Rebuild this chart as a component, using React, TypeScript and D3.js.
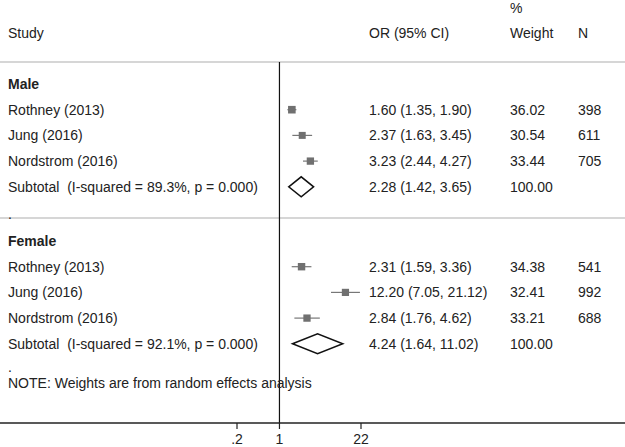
import { scaleLog, scaleSqrt } from "d3"
import { useEffect, useRef } from "react"
import { select } from "d3"

// study rows
const studies = ["Rothney (2013)", "Jung (2016)", "Nordstrom (2016)"]

const maleOR = [1.60, 2.37, 3.23]
const maleLo = [1.35, 1.63, 2.44]
const maleHi = [1.90, 3.45, 4.27]
const maleWeight = ["36.02", "30.54", "33.44"]
const maleN = [398, 611, 705]
const maleSub = { or: 2.28, lo: 1.42, hi: 3.65, label: "Subtotal  (I-squared = 89.3%, p = 0.000)" }

const femaleOR = [2.31, 12.20, 2.84]
const femaleLo = [1.59, 7.05, 1.76]
const femaleHi = [3.36, 21.12, 4.62]
const femaleWeight = ["34.38", "32.41", "33.21"]
const femaleN = [541, 992, 688]
const femaleSub = { or: 4.24, lo: 1.64, hi: 11.02, label: "Subtotal  (I-squared = 92.1%, p = 0.000)" }

const tickValues = [0.2, 1, 22]
const tickLabels = [".2", "1", "22"]

const W = 625
const H = 447
const FONT = "'Liberation Sans', Arial, sans-serif"

const fmt = (v) => v.toFixed(2)

const App = () => {
    const ref = useRef()

    useEffect(() => {
        document.body.style.margin = "0"
        const svg = select(ref.current)
        svg.selectAll("*").remove()

        const x = scaleLog().domain([0.2, 22]).range([237, 361])
        const boxSize = scaleSqrt().domain([0, 40]).range([0, 8])
        const step = 25.7
        const axisY = 423
        const colStudy = 8
        const colOR = 369
        const colW = 510
        const colN = 578

        const text = (str, tx, ty, opts = {}) => svg.append("text")
            .attr("x", tx)
            .attr("y", ty + 5)
            .attr("font-family", FONT)
            .attr("font-size", 14)
            .attr("font-weight", opts.bold ? "bold" : "normal")
            .attr("text-anchor", opts.anchor || "start")
            .attr("fill", "#222")
            .style("white-space", "pre")
            .text(str)

        // header
        text("%", colW, 8)
        text("Study", colStudy, 33)
        text("OR (95% CI)", colOR, 33)
        text("Weight", colW, 33)
        text("N", colN, 33)

        svg.append("line").attr("x1", 0).attr("x2", W).attr("y1", 62).attr("y2", 62)
            .attr("stroke", "#c8c8c8").attr("stroke-width", 1.5)
        svg.append("line").attr("x1", 0).attr("x2", W).attr("y1", 218).attr("y2", 218)
            .attr("stroke", "#c8c8c8").attr("stroke-width", 1.5)

        // null line
        svg.append("line").attr("x1", x(1)).attr("x2", x(1)).attr("y1", 62).attr("y2", axisY)
            .attr("stroke", "#111").attr("stroke-width", 1.2)

        const drawGroup = (title, top, ors, los, his, weights, ns, sub) => {
            text(title, colStudy, top, { bold: true })
            studies.forEach((s, i) => {
                const cy = top + step * (i + 1)
                text(s, colStudy, cy)
                svg.append("line")
                    .attr("x1", x(los[i])).attr("x2", x(his[i]))
                    .attr("y1", cy).attr("y2", cy)
                    .attr("stroke", "#777").attr("stroke-width", 1.2)
                const b = boxSize(+weights[i])
                svg.append("rect")
                    .attr("x", x(ors[i]) - b / 2).attr("y", cy - b / 2)
                    .attr("width", b).attr("height", b)
                    .attr("fill", "#707070")
                text(`${fmt(ors[i])} (${fmt(los[i])}, ${fmt(his[i])})`, colOR, cy)
                text(weights[i], colW, cy)
                text(ns[i], colN, cy)
            })
            const sy = top + step * 4
            text(sub.label, colStudy, sy)
            svg.append("path")
                .attr("d", `M${x(sub.lo)},${sy} L${x(sub.or)},${sy - 10} L${x(sub.hi)},${sy} L${x(sub.or)},${sy + 10} Z`)
                .attr("fill", "none").attr("stroke", "#111").attr("stroke-width", 1.5)
            text(`${fmt(sub.or)} (${fmt(sub.lo)}, ${fmt(sub.hi)})`, colOR, sy)
            text("100.00", colW, sy)
        }

        drawGroup("Male", 84, maleOR, maleLo, maleHi, maleWeight, maleN, maleSub)
        text(".", colStudy, 214)
        drawGroup("Female", 241, femaleOR, femaleLo, femaleHi, femaleWeight, femaleN, femaleSub)
        text(".", colStudy, 367)
        text("NOTE: Weights are from random effects analysis", colStudy, 383)

        // axis
        svg.append("line").attr("x1", 0).attr("x2", W).attr("y1", axisY).attr("y2", axisY)
            .attr("stroke", "#222").attr("stroke-width", 1.5)
        tickValues.forEach((t, i) => {
            svg.append("line").attr("x1", x(t)).attr("x2", x(t)).attr("y1", axisY).attr("y2", axisY + 6)
                .attr("stroke", "#222").attr("stroke-width", 1.2)
            svg.append("text")
                .attr("x", x(t)).attr("y", 444)
                .attr("font-family", FONT).attr("font-size", 14)
                .attr("text-anchor", "middle").attr("fill", "#222")
                .text(tickLabels[i])
        })
    }, [])

    return (
        <svg ref={ref} width={W} height={H} style={{ display: "block", background: "#fff" }}></svg>
    )
}

export default App
